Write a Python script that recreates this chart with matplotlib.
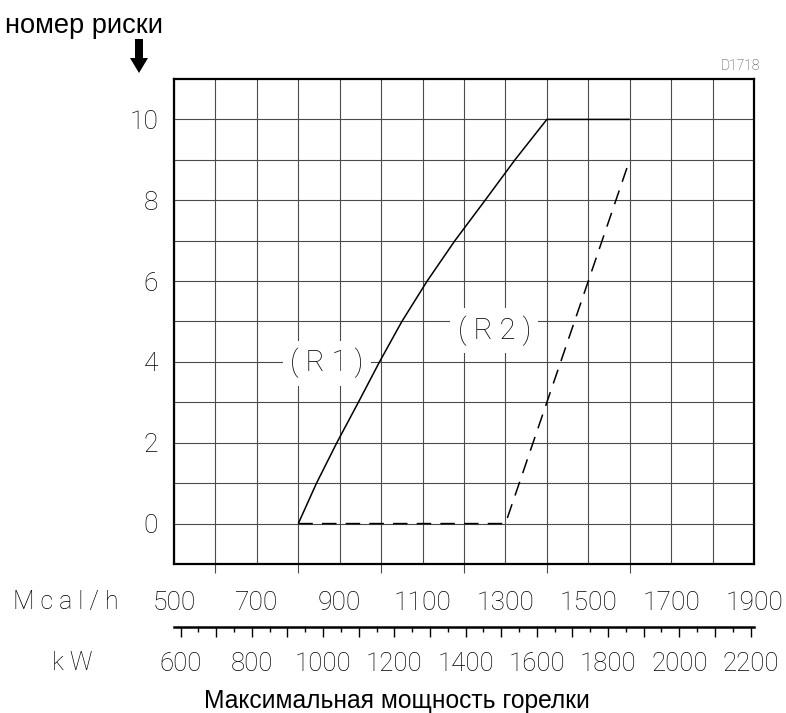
import matplotlib
matplotlib.use("Agg")
import matplotlib.pyplot as plt
from matplotlib.patches import Polygon
import numpy as np

# ---- data ----
r1_mcal = [800, 844, 893, 945, 996, 1050, 1111, 1178, 1251, 1323, 1400, 1600]
r1_risk = [0, 1, 2, 3, 4, 5, 6, 7, 8, 9, 10, 10]
r2_mcal = [800, 1300, 1600]
r2_risk = [0, 0, 9]
mcal_ticks = [500, 700, 900, 1100, 1300, 1500, 1700, 1900]
kw_ticks = [600, 800, 1000, 1200, 1400, 1600, 1800, 2000, 2200]
risk_ticks = [0, 2, 4, 6, 8, 10]
labels_r = ["( R 1 )", "( R 2 )"]
label_pos = [(869, 3.97), (1273, 4.78)]

KW_PER_MCAL = 1.163

W, H = 786, 713
fig = plt.figure(figsize=(W / 100, H / 100), dpi=100)
L, R, T, B = 174, 754, 79, 564
ax = fig.add_axes([L / W, 1 - B / H, (R - L) / W, (B - T) / H])

thin = dict(family=["Roboto", "DejaVu Sans"], weight="light")
grid_c = "#4a4a4a"

ax.set_xlim(500, 1900)
ax.set_ylim(-1, 11)

ax.set_xticks(mcal_ticks)
ax.set_xticks(np.arange(600, 1900, 200), minor=True)
ax.set_yticks(risk_ticks)
ax.set_yticks(np.arange(1, 11, 2), minor=True)
ax.set_xticklabels([str(v) for v in mcal_ticks], fontsize=19, **thin)
ax.set_yticklabels([str(v) for v in risk_ticks], fontsize=19, **thin)

ax.tick_params(axis="x", which="major", length=0, pad=19.5)
ax.tick_params(axis="x", which="minor", length=6.5, width=0.8, color=grid_c, direction="out")
ax.tick_params(axis="y", which="both", length=0, pad=11.5)
ax.xaxis.get_minor_ticks()[-1].tick1line.set_visible(False)

ax.grid(True, which="both", color=grid_c, lw=0.8)
ax.set_axisbelow(True)
for s in ax.spines.values():
    s.set_linewidth(1.6)
    s.set_color("black")

ax.plot(r1_mcal, r1_risk, color="black", lw=1.1, solid_capstyle="butt", zorder=3)
ax.plot(r2_mcal, r2_risk, color="black", lw=1.1, linestyle=(0, (9.5, 6)), zorder=3)

for txt, (x, y) in zip(labels_r, label_pos):
    ax.text(x, y, txt, ha="center", va="center", fontsize=21, zorder=2.5,
            bbox=dict(boxstyle="square,pad=0.25", fc="white", ec="none"), **thin)

# ---- kW axis ----
sec = ax.secondary_xaxis(-63 / (B - T), functions=(lambda m: np.asarray(m) * KW_PER_MCAL,
                                                    lambda k: np.asarray(k) / KW_PER_MCAL))
sec.spines["bottom"].set_linewidth(1.8)
sec.set_xticks(np.arange(600, 2201, 100))
sec.set_xticks(np.arange(650, 2200, 100), minor=True)
sec.set_xticklabels([str(v) if v in kw_ticks else "" for v in range(600, 2201, 100)],
                    fontsize=18.5, **thin)
sec.tick_params(axis="x", which="major", length=7, width=1, pad=11)
sec.tick_params(axis="x", which="minor", length=3.5, width=1)

# ---- texts ----
fig.text(66 / W, 1 - 602 / H, "M c a l / h", ha="center", va="center", fontsize=18, **thin)
fig.text(72 / W, 1 - 663 / H, "k W", ha="center", va="center", fontsize=18, **thin)
fig.text(5 / W, 1 - 33 / H, "номер риски", ha="left", va="baseline", fontsize=19.6,
         family=["Liberation Sans", "DejaVu Sans"])
fig.text(397 / W, 1 - 708 / H, "Максимальная мощность горелки", ha="center", va="baseline",
         fontsize=17.7, family=["Liberation Sans", "DejaVu Sans"])
fig.text(760 / W, 1 - 70 / H, "D1718", ha="right", va="baseline", fontsize=10,
         color="#333333", **thin)

# arrow
pts = [(135, 39), (143, 39), (143, 58), (148, 58), (139, 73), (130, 58), (135, 58)]
fig.add_artist(Polygon([(x / W, 1 - y / H) for x, y in pts], closed=True,
                       transform=fig.transFigure, fc="black", ec="none"))

fig.savefig("out.png", dpi=100)
